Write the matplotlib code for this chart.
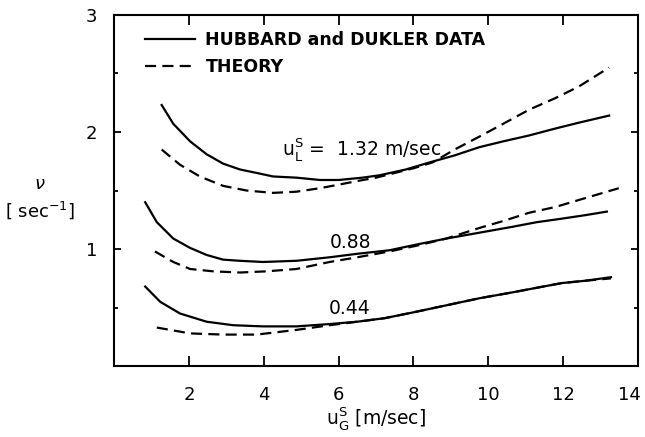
import matplotlib
matplotlib.use("Agg")
import matplotlib.pyplot as plt
import matplotlib.transforms as mtransforms
from matplotlib.ticker import MultipleLocator

plt.rcParams["font.family"] = ["DejaVu Sans"]
plt.rcParams["mathtext.fontset"] = "dejavusans"

# curves: gas superficial velocity [m/s] vs frequency [1/s]
x_data_132 = [1.27, 1.58, 2.03, 2.47, 2.91, 3.36, 3.81, 4.25, 4.87, 5.5, 6.0, 6.64, 7.09, 7.8, 8.43, 9.1, 9.76, 10.4, 11.09, 11.8, 12.43, 13.23]
y_data_132 = [2.23, 2.07, 1.92, 1.81, 1.73, 1.68, 1.65, 1.62, 1.61, 1.59, 1.59, 1.61, 1.63, 1.68, 1.74, 1.80, 1.87, 1.92, 1.97, 2.03, 2.08, 2.14]
x_theo_132 = [1.27, 1.76, 2.29, 2.91, 3.54, 4.25, 4.87, 5.5, 6.0, 6.48, 7.0, 7.5, 8.0, 8.51, 9.1, 9.76, 10.4, 11.09, 11.8, 12.43, 13.23]
y_theo_132 = [1.85, 1.72, 1.62, 1.54, 1.50, 1.48, 1.49, 1.52, 1.55, 1.58, 1.61, 1.65, 1.69, 1.74, 1.85, 1.96, 2.07, 2.19, 2.29, 2.39, 2.55]

x_data_088 = [0.83, 1.14, 1.58, 2.03, 2.47, 2.91, 3.36, 3.98, 4.87, 5.76, 6.5, 7.36, 8.1, 8.88, 9.76, 10.64, 11.3, 11.97, 12.6, 13.17]
y_data_088 = [1.40, 1.23, 1.09, 1.01, 0.95, 0.91, 0.90, 0.89, 0.90, 0.93, 0.96, 0.99, 1.04, 1.09, 1.14, 1.19, 1.23, 1.26, 1.29, 1.32]
x_theo_088 = [1.09, 1.58, 2.03, 2.65, 3.36, 4.07, 4.87, 5.76, 6.5, 7.36, 8.1, 8.88, 9.76, 10.4, 11.09, 11.8, 12.43, 13.49]
y_theo_088 = [0.98, 0.89, 0.83, 0.81, 0.80, 0.81, 0.83, 0.89, 0.93, 0.98, 1.03, 1.09, 1.18, 1.24, 1.31, 1.36, 1.42, 1.52]

x_data_044 = [0.83, 1.23, 1.76, 2.47, 3.18, 3.98, 4.87, 5.76, 6.5, 7.23, 8.0, 8.88, 9.76, 10.64, 11.3, 11.97, 12.6, 13.28]
y_data_044 = [0.68, 0.55, 0.45, 0.38, 0.35, 0.34, 0.34, 0.36, 0.38, 0.41, 0.46, 0.52, 0.58, 0.63, 0.67, 0.71, 0.73, 0.76]
x_theo_044 = [1.14, 2.03, 2.91, 3.81, 4.87, 5.76, 6.5, 7.23, 8.0, 8.88, 9.76, 10.64, 11.3, 11.97, 12.6, 13.28]
y_theo_044 = [0.33, 0.28, 0.27, 0.27, 0.31, 0.35, 0.38, 0.41, 0.46, 0.52, 0.58, 0.63, 0.67, 0.71, 0.73, 0.75]

curve_labels = ["$\\mathregular{u_L^S}$ =  1.32 m/sec", "0.88", "0.44"]
label_x = [4.48, 6.32, 6.29]
label_y = [1.85, 1.06, 0.49]
xticks = [2, 4, 6, 8, 10, 12, 14]
yticks = [1, 2, 3]

fig = plt.figure(figsize=(6.45, 4.37), dpi=100)
ax = fig.add_axes([0.177, 0.162, 0.812, 0.804])

lw = 1.6
dash = (5, 2.8)
style = dict(color="black", lw=lw, solid_joinstyle="round", dash_joinstyle="round")
ax.plot(x_data_132, y_data_132, label="HUBBARD and DUKLER DATA", **style)
ax.plot(x_theo_132, y_theo_132, dashes=dash, label="THEORY", **style)
ax.plot(x_data_088, y_data_088, **style)
ax.plot(x_theo_088, y_theo_088, dashes=dash, **style)
ax.plot(x_data_044, y_data_044, **style)
ax.plot(x_theo_044, y_theo_044, dashes=dash, **style)

for txt, tx, ty in zip(curve_labels, label_x, label_y):
    ha = "left" if tx < 5 else "center"
    ax.text(tx, ty, txt, fontsize=13.5, ha=ha, va="center")

ax.set_xlim(0, 14)
ax.set_ylim(0, 3)
ax.set_xticks(xticks)
ax.set_xticklabels([str(t) for t in xticks])
ax.set_yticks(yticks)
ax.set_yticklabels([str(t) for t in yticks])
ax.yaxis.set_minor_locator(MultipleLocator(0.5))
ax.tick_params(axis="x", which="major", direction="in", length=7, width=1.3,
               top=True, pad=14, labelsize=13)
ax.tick_params(axis="y", which="major", direction="in", length=5, width=1.3,
               right=True, pad=12, labelsize=13)
ax.tick_params(axis="y", which="minor", direction="in", length=3, width=1.3, right=True)
for s in ax.spines.values():
    s.set_linewidth(1.5)

# last x label sits on the figure edge; nudge it left so it is not clipped
last = ax.get_xticklabels()[-1]
last.set_transform(last.get_transform() +
                   mtransforms.ScaledTranslation(-6 / 72, 0, fig.dpi_scale_trans))

ax.legend(loc="upper left", bbox_to_anchor=(0.045, 0.975), frameon=False,
          prop=dict(size=12.5, weight="bold"), handlelength=2.9, handletextpad=0.6,
          labelspacing=0.55, borderaxespad=0.0)

fig.text(0.062, 0.58, "$\\nu$", fontsize=13, ha="center", va="center")
fig.text(0.062, 0.52, "[ sec$^{-1}$]", fontsize=13, ha="center", va="center")
ax.set_xlabel("$\\mathregular{u_G^S}$ [m/sec]", fontsize=13.5, labelpad=1)

fig.savefig("out.png", dpi=100)
